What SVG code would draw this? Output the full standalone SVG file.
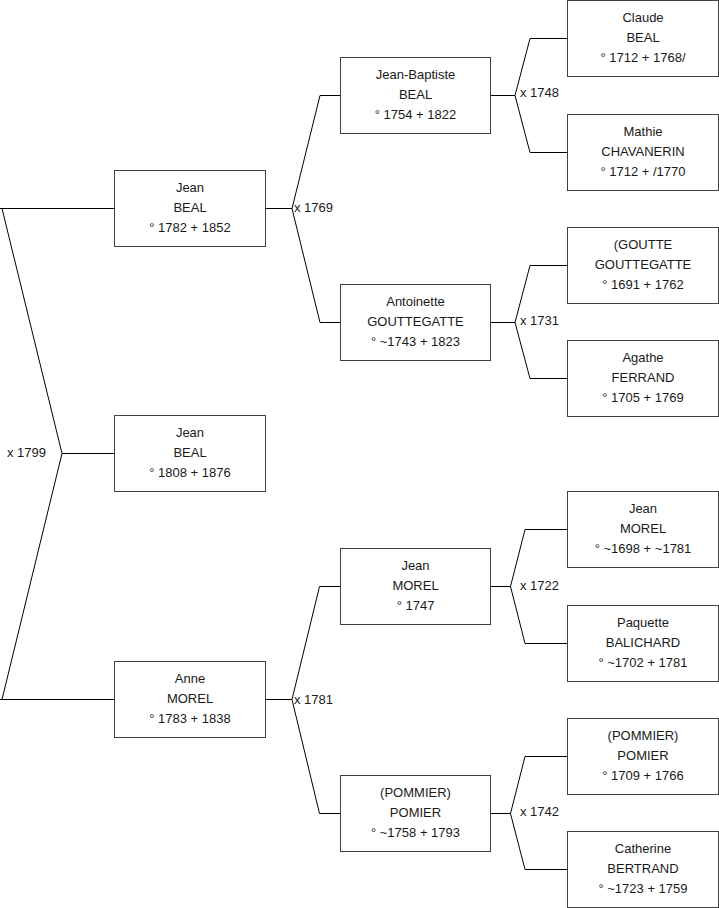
<svg xmlns="http://www.w3.org/2000/svg" width="719" height="908" viewBox="0 0 719 908">
<style>
  .box { fill: #ffffff; stroke: #404040; stroke-width: 1; }
  .t { font-family: "Liberation Sans", Arial, sans-serif; font-size: 13px; fill: #1a1a1a; text-anchor: middle; }
  .m { font-family: "Liberation Sans", Arial, sans-serif; font-size: 13px; fill: #1a1a1a; }
  .c { fill: none; stroke: #000000; stroke-width: 1; }
</style>
<rect width="719" height="908" fill="#ffffff"/>
<g id="connectors">
  <path class="c" d="M0,208.5 H114.5 M2,208.5 L62,453.5 L2,699.5 M0,699.5 H114.5 M62,453.5 H114.5"/>
  <path class="c" d="M265.5,208.5 H292 M320,95.5 L292,208.5 L320,322.5 M320,95.5 H340.5 M320,322.5 H340.5"/>
  <path class="c" d="M265.5,699.5 H292 M319.5,586.5 L292,699.5 L319.5,813.5 M319.5,586.5 H340.5 M319.5,813.5 H340.5"/>
  <path class="c" d="M490.5,95.5 H515 M530,38.5 L515,95.5 L530,152.5 M530,38.5 H567.5 M530,152.5 H567.5"/>
  <path class="c" d="M490.5,322.5 H515 M530,265.5 L515,322.5 L530,378.5 M530,265.5 H567.5 M530,378.5 H567.5"/>
  <path class="c" d="M490.5,586.5 H510.5 M525,529.5 L510.5,586.5 L525,643.5 M525,529.5 H567.5 M525,643.5 H567.5"/>
  <path class="c" d="M490.5,813.5 H510.5 M525,756.5 L510.5,813.5 L525,869.5 M525,756.5 H567.5 M525,869.5 H567.5"/>
  <text class="m" x="7" y="457">x 1799</text>
  <text class="m" x="294" y="212">x 1769</text>
  <text class="m" x="294" y="704">x 1781</text>
  <text class="m" x="520" y="97">x 1748</text>
  <text class="m" x="520" y="325">x 1731</text>
  <text class="m" x="520" y="590">x 1722</text>
  <text class="m" x="520" y="816">x 1742</text>
</g>
<g id="p1">
  <rect class="box" x="114.5" y="170.5" width="151" height="76"/>
  <text class="t" x="190" y="191.5">Jean</text>
  <text class="t" x="190" y="211.5">BEAL</text>
  <text class="t" x="190" y="231.5">° 1782 + 1852</text>
</g>
<g id="p0">
  <rect class="box" x="114.5" y="415.5" width="151" height="76"/>
  <text class="t" x="190" y="436.5">Jean</text>
  <text class="t" x="190" y="456.5">BEAL</text>
  <text class="t" x="190" y="476.5">° 1808 + 1876</text>
</g>
<g id="p2">
  <rect class="box" x="114.5" y="661.5" width="151" height="76"/>
  <text class="t" x="190" y="682.5">Anne</text>
  <text class="t" x="190" y="702.5">MOREL</text>
  <text class="t" x="190" y="722.5">° 1783 + 1838</text>
</g>
<g id="p3">
  <rect class="box" x="340.5" y="57.5" width="150" height="76"/>
  <text class="t" x="415.5" y="78.5">Jean-Baptiste</text>
  <text class="t" x="415.5" y="98.5">BEAL</text>
  <text class="t" x="415.5" y="118.5">° 1754 + 1822</text>
</g>
<g id="p4">
  <rect class="box" x="340.5" y="284.5" width="150" height="76"/>
  <text class="t" x="415.5" y="305.5">Antoinette</text>
  <text class="t" x="415.5" y="325.5">GOUTTEGATTE</text>
  <text class="t" x="415.5" y="345.5">° ~1743 + 1823</text>
</g>
<g id="p5">
  <rect class="box" x="340.5" y="548.5" width="150" height="76"/>
  <text class="t" x="415.5" y="569.5">Jean</text>
  <text class="t" x="415.5" y="589.5">MOREL</text>
  <text class="t" x="415.5" y="609.5">° 1747</text>
</g>
<g id="p6">
  <rect class="box" x="340.5" y="775.5" width="150" height="76"/>
  <text class="t" x="415.5" y="796.5">(POMMIER)</text>
  <text class="t" x="415.5" y="816.5">POMIER</text>
  <text class="t" x="415.5" y="836.5">° ~1758 + 1793</text>
</g>
<g id="p7">
  <rect class="box" x="567.5" y="0.5" width="151" height="76"/>
  <text class="t" x="643" y="21.5">Claude</text>
  <text class="t" x="643" y="41.5">BEAL</text>
  <text class="t" x="643" y="61.5">° 1712 + 1768/</text>
</g>
<g id="p8">
  <rect class="box" x="567.5" y="114.5" width="151" height="76"/>
  <text class="t" x="643" y="135.5">Mathie</text>
  <text class="t" x="643" y="155.5">CHAVANERIN</text>
  <text class="t" x="643" y="175.5">° 1712 + /1770</text>
</g>
<g id="p9">
  <rect class="box" x="567.5" y="227.5" width="151" height="76"/>
  <text class="t" x="643" y="248.5">(GOUTTE</text>
  <text class="t" x="643" y="268.5">GOUTTEGATTE</text>
  <text class="t" x="643" y="288.5">° 1691 + 1762</text>
</g>
<g id="p10">
  <rect class="box" x="567.5" y="340.5" width="151" height="76"/>
  <text class="t" x="643" y="361.5">Agathe</text>
  <text class="t" x="643" y="381.5">FERRAND</text>
  <text class="t" x="643" y="401.5">° 1705 + 1769</text>
</g>
<g id="p11">
  <rect class="box" x="567.5" y="491.5" width="151" height="76"/>
  <text class="t" x="643" y="512.5">Jean</text>
  <text class="t" x="643" y="532.5">MOREL</text>
  <text class="t" x="643" y="552.5">° ~1698 + ~1781</text>
</g>
<g id="p12">
  <rect class="box" x="567.5" y="605.5" width="151" height="76"/>
  <text class="t" x="643" y="626.5">Paquette</text>
  <text class="t" x="643" y="646.5">BALICHARD</text>
  <text class="t" x="643" y="666.5">° ~1702 + 1781</text>
</g>
<g id="p13">
  <rect class="box" x="567.5" y="718.5" width="151" height="76"/>
  <text class="t" x="643" y="739.5">(POMMIER)</text>
  <text class="t" x="643" y="759.5">POMIER</text>
  <text class="t" x="643" y="779.5">° 1709 + 1766</text>
</g>
<g id="p14">
  <rect class="box" x="567.5" y="831.5" width="151" height="76"/>
  <text class="t" x="643" y="852.5">Catherine</text>
  <text class="t" x="643" y="872.5">BERTRAND</text>
  <text class="t" x="643" y="892.5">° ~1723 + 1759</text>
</g>
</svg>
